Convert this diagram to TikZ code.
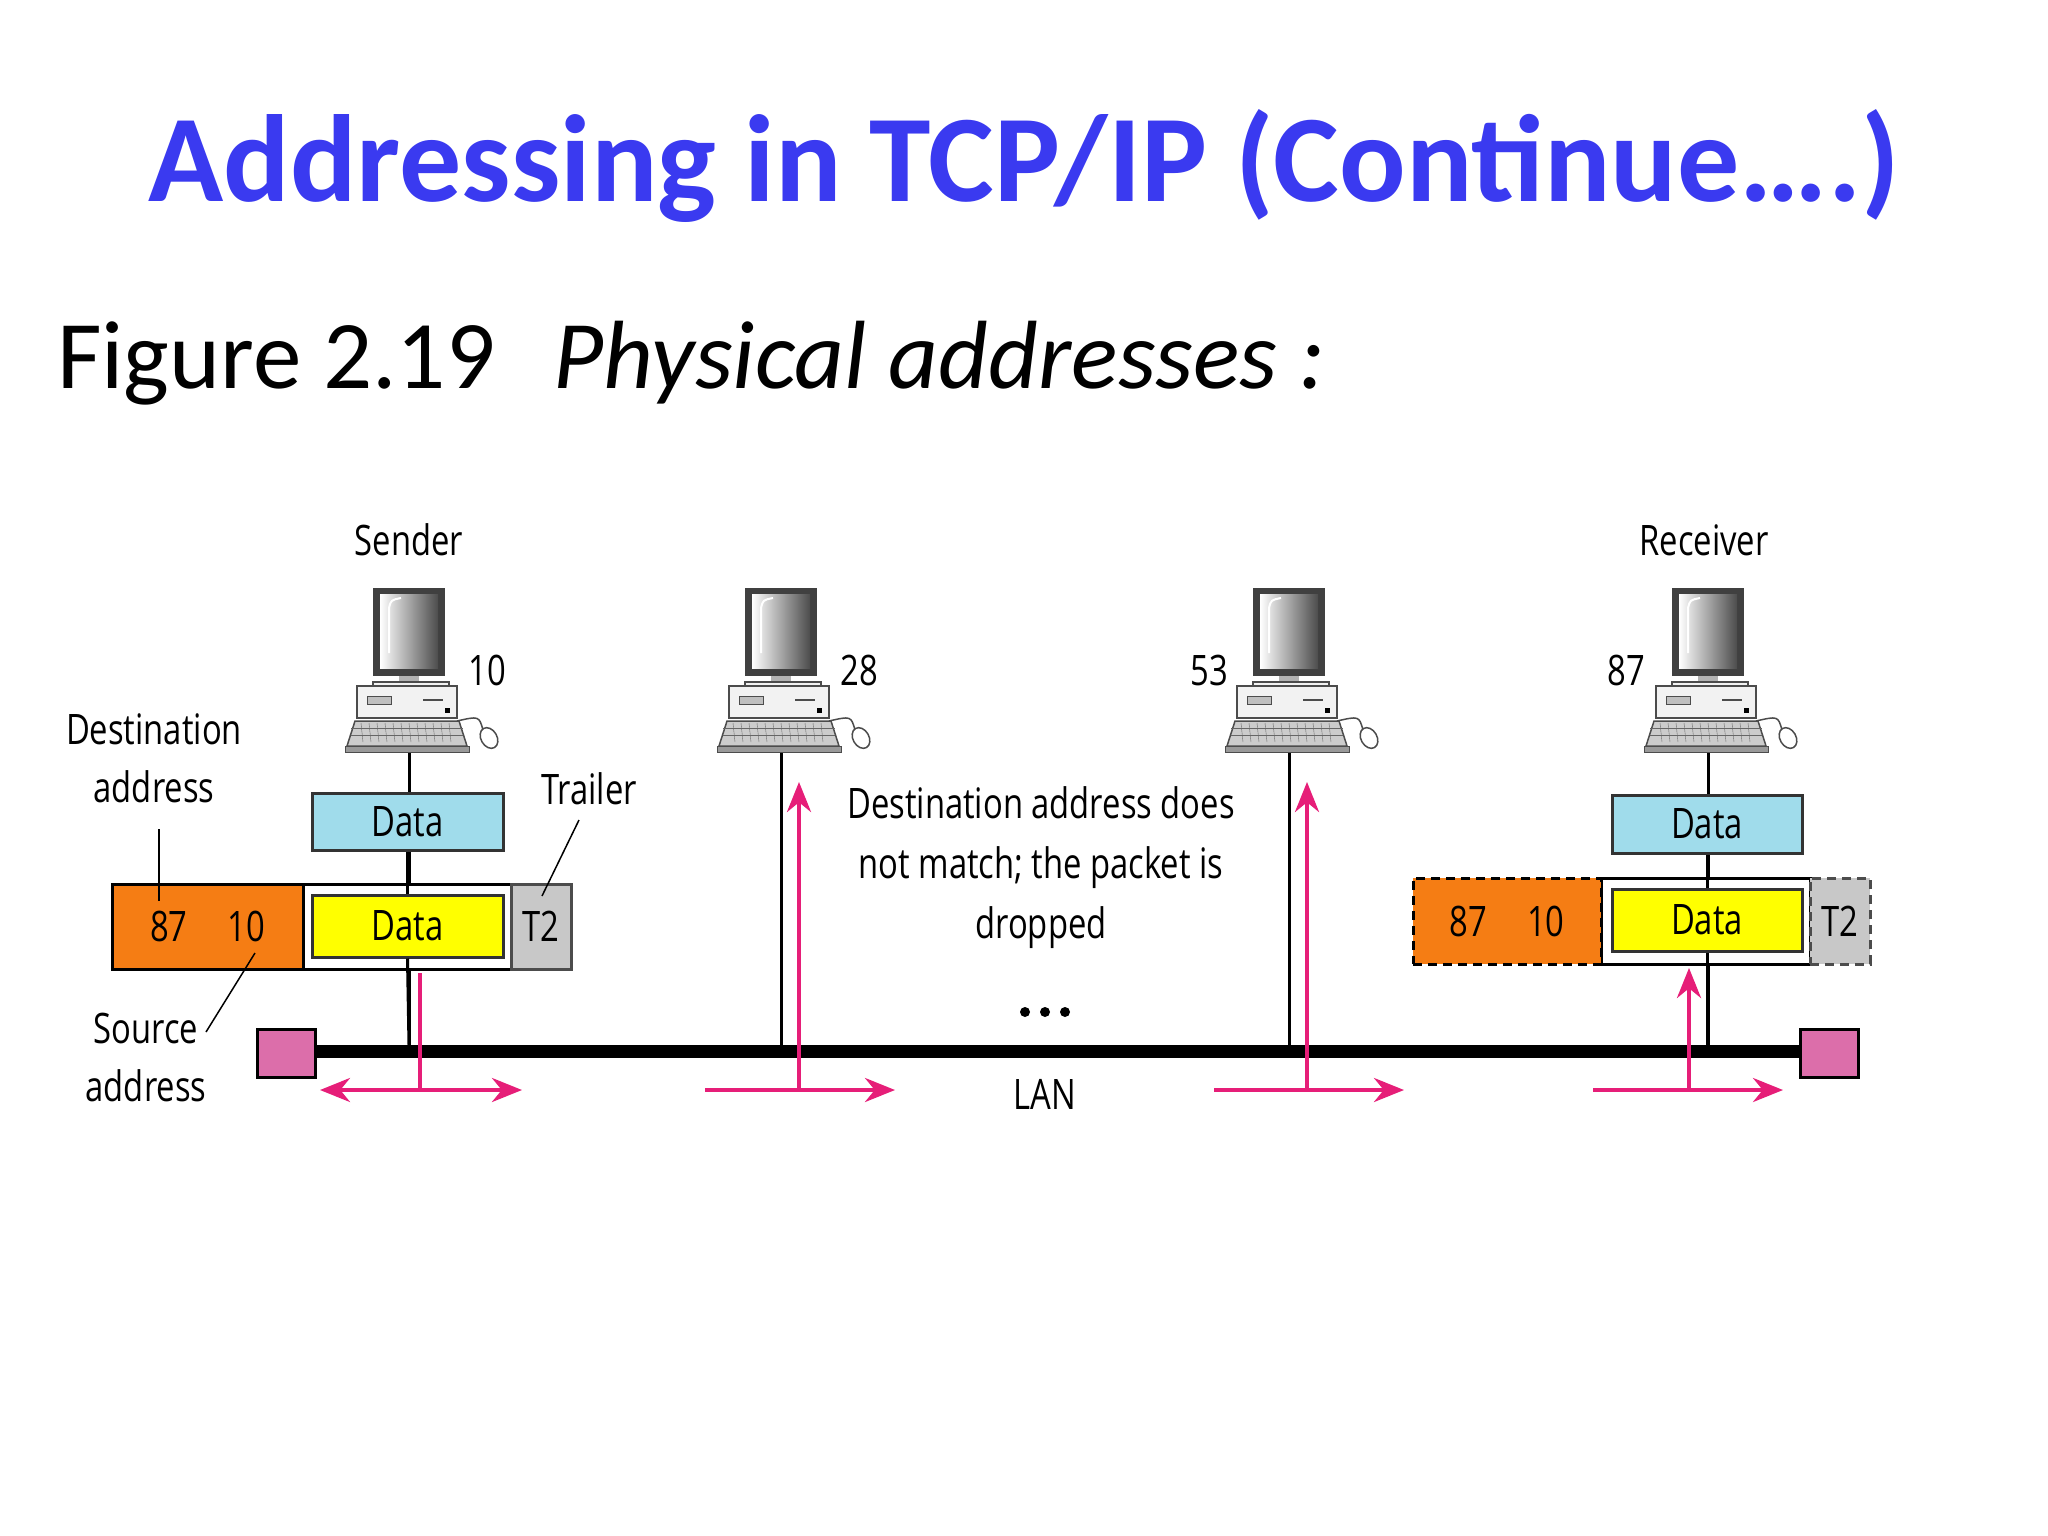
\documentclass[tikz,border=0pt]{standalone}
\usepackage{fontspec}
\setmainfont{Carlito}
\newfontfamily\cond[FakeStretch=0.78]{Open Sans}
\usetikzlibrary{arrows.meta}
\definecolor{ttl}{RGB}{58,58,240}
\definecolor{pk}{RGB}{230,30,120}
\definecolor{cy}{RGB}{160,220,235}
\definecolor{org}{RGB}{245,125,20}
\definecolor{ylw}{RGB}{255,255,0}
\definecolor{tg}{RGB}{200,200,200}
\definecolor{term}{RGB}{220,110,170}
\tikzset{
 lbl/.style={font=\cond\fontsize{42}{52}\selectfont, inner sep=0pt, align=center},
 box/.style={draw=black!80, line width=3pt, inner sep=0pt},
 dsh/.style={dash pattern=on 9pt off 6pt},
 parr/.style={draw=pk, line width=4pt, -{Stealth[length=30pt,width=24pt]}},
 parrr/.style={draw=pk, line width=4pt, {Stealth[length=30pt,width=24pt]}-{Stealth[length=30pt,width=24pt]}},
 pc/.pic={
  \fill[black!75] (-36,0) rectangle (36,-88);
  \shade[left color=white, right color=black!70] (-29,-6) rectangle (29,-80);
  \draw[white, line width=2pt] (-20,-65) -- (-20,-20) .. controls (-18,-12) .. (-8,-10);
  \fill[black!30] (-10,-88) rectangle (10,-94);
  \draw[black!70, fill=black!5, line width=1.5pt] (-36,-94) rectangle (40,-98);
  \draw[black!70, fill=black!5, line width=1.5pt] (-52,-98) rectangle (48,-130);
  \draw[black!70, fill=black!25, line width=1pt] (-42,-108) rectangle (-18,-116);
  \draw[black!70, line width=2pt] (14,-112) -- (34,-112);
  \fill[black] (36,-120) rectangle (41,-125);
  \draw[black!70, fill=black!20, line width=1.5pt] (-54,-133) -- (50,-133) -- (58,-158) -- (-62,-158) -- cycle;
  \foreach \i in {-48,-40,...,44} \draw[black!60] (\i,-135) -- (\i+2,-154);
  \foreach \j in {-140,-147} \draw[black!60] (-58,\j) -- (54,\j);
  \draw[black!70, fill=black!40] (-64,-158) rectangle (60,-164);
  \draw[black!70, line width=1.5pt] (48,-133) .. controls (70,-128) .. (74,-142);
  \draw[black!70, fill=white, line width=1.5pt, rotate around={-30:(80,-150)}] (80,-150) ellipse (8 and 11);
 }
}
\begin{document}
\begin{tikzpicture}[x=1pt,y=-1pt]
\useasboundingbox[fill=white] (0,0) rectangle (2048,1536);
\node[text=ttl, font=\bfseries\fontsize{124}{140}\selectfont, inner sep=0pt] (title) at (1024,166) {Addressing in TCP/IP (Continue….)};
\node[anchor=base west, font=\fontsize{97}{100}\selectfont, inner sep=0pt] (fig) at (57,388) {Figure 2.19\hspace{0.6em}\textit{Physical addresses :}};
% bus
\coordinate (busL) at (313,1051); \coordinate (busR) at (1802,1051);
\draw[line width=13pt] (busL) -- (busR);
\node[draw=black, line width=3pt, fill=term, minimum width=58pt, minimum height=48pt, inner sep=0pt] (tl) at (286,1053) {};
\node[draw=black, line width=3pt, fill=term, minimum width=58pt, minimum height=48pt, inner sep=0pt] (tr) at (1829,1053) {};
% computers
\foreach \n/\x in {s/409,b/781,c/1289,r/1708}{
  \coordinate (pc\n) at (\x,751);
  \coordinate (bus\n) at (\x,1051);
  \draw[line width=3pt] (pc\n) -- (bus\n);
  \pic[yscale=-1] at (\x,588) {pc};
}
\node[lbl] (sender) at (409,540) {Sender};
\node[lbl] (receiver) at (1704,540) {Receiver};
\node[lbl] (n10) at (487,670) {10};
\node[lbl] (n28) at (859,670) {28};
\node[lbl] (n53) at (1209,670) {53};
\node[lbl] (n87) at (1626,670) {87};
% sender frames
\node[box, fill=cy, minimum width=191pt, minimum height=57pt, lbl] (sdata) at (407.5,821.5) {Data};
\draw[line width=3pt, fill=white] (112,884) rectangle (571,969);
\node[box, fill=org, minimum width=191pt, minimum height=85pt, lbl, draw=black] (sorg) at (207.5,926.5) {87\hspace{40pt}10};
\node[box, fill=tg, minimum width=60pt, minimum height=85pt, lbl, draw=black!70] (st2) at (541,926.5) {T2};
\node[box, fill=ylw, minimum width=191pt, minimum height=62pt, lbl] (sy) at (407.5,926) {Data};
\draw[line width=3pt] (sdata.south) -- (sdata.south |- sy.north);
\draw[line width=3pt] (sy.south) -- (409,1045);
% receiver frames
\node[box, fill=cy, minimum width=190pt, minimum height=58pt, lbl] (rdata) at (1707,824) {Data};
\draw[line width=3pt, fill=white] (1601,878) rectangle (1810,964);
\node[box, fill=org, minimum width=188pt, minimum height=86pt, lbl, dsh, draw=black] (rorg) at (1507,921) {87\hspace{40pt}10};
\node[box, fill=tg, minimum width=60pt, minimum height=86pt, lbl, dsh, draw=black!70] (rt2) at (1840,921) {T2};
\node[box, fill=ylw, minimum width=190pt, minimum height=62pt, lbl] (ry) at (1707,920) {Data};
\draw[line width=3pt] (rdata.south) -- (rdata.south |- ry.north);
\draw[line width=3pt] (ry.south) -- (1707,1045);
% labels with leaders
\node[lbl] (dest) at (154,758) {Destination\\[6pt]address};
\coordinate (d1) at (159,829); \coordinate (d2) at (159,901);
\draw[line width=1.5pt] (d1) -- (d2);
\node[lbl] (trailer) at (589,789) {Trailer};
\coordinate (t1) at (579,820); \coordinate (t2) at (542,896);
\draw[line width=1.5pt] (t1) -- (t2);
\node[lbl] (src) at (146,1057) {Source\\[6pt]address};
\coordinate (s1) at (206,1032); \coordinate (s2) at (255,953);
\draw[line width=1.5pt] (s1) -- (s2);
\node[lbl] (msg) at (1041,868) {Destination address does\\[8pt]not match; the packet is\\[8pt]dropped};
\foreach \dx [count=\k] in {-20,0,20} \fill (1045+\dx,1012) circle (5);
\node[lbl] (lan) at (1045,1094) {LAN};
% pink arrows
\coordinate (a1t) at (420,973); \coordinate (a1b) at (420,1090);
\coordinate (a1l) at (320,1090); \coordinate (a1r) at (522,1090);
\draw[draw=pk, line width=4pt] (a1t) -- (a1b);
\draw[parrr] (a1l) -- (a1r);
\coordinate (a2t) at (799,782); \coordinate (a2b) at (799,1090);
\coordinate (a2l) at (705,1090); \coordinate (a2r) at (895,1090);
\draw[parr] (a2b) -- (a2t); \draw[parr] (a2l) -- (a2r);
\coordinate (a3t) at (1307,782); \coordinate (a3b) at (1307,1090);
\coordinate (a3l) at (1214,1090); \coordinate (a3r) at (1404,1090);
\draw[parr] (a3b) -- (a3t); \draw[parr] (a3l) -- (a3r);
\coordinate (a4t) at (1689,968); \coordinate (a4b) at (1689,1090);
\coordinate (a4l) at (1593,1090); \coordinate (a4r) at (1783,1090);
\draw[parr] (a4b) -- (a4t); \draw[parr] (a4l) -- (a4r);
\end{tikzpicture}
\end{document}
